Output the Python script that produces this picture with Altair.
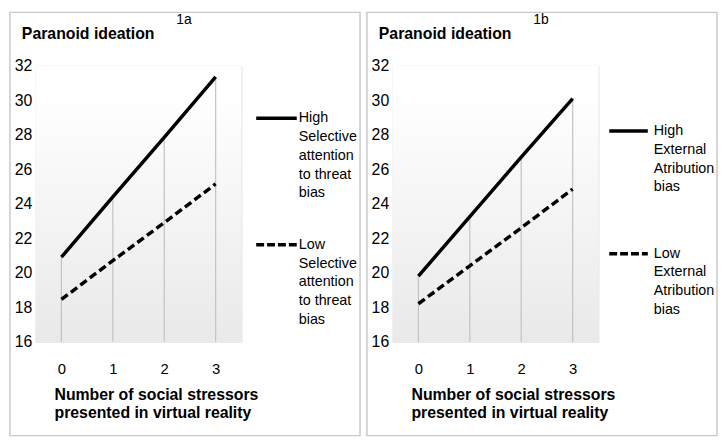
import altair as alt
import pandas as pd

# ---- data ----
stressors = [0, 1, 2, 3]
high_1a = [20.9, 24.4, 27.85, 31.35]
low_1a = [18.45, 20.7, 22.9, 25.15]
high_1b = [19.8, 23.25, 26.7, 30.1]
low_1b = [18.2, 20.4, 22.6, 24.85]
y_ticks = [16, 18, 20, 22, 24, 26, 28, 30, 32]
y_title = "Paranoid ideation"
x_title = ["Number of social stressors", "presented in virtual reality"]
legend_1a_high = ["High", "Selective", "attention", "to threat", "bias"]
legend_1a_low = ["Low", "Selective", "attention", "to threat", "bias"]
legend_1b_high = ["High", "External", "Atribution", "bias"]
legend_1b_low = ["Low", "External", "Atribution", "bias"]

FONT = "Liberation Sans"
W, H = 208, 279
L, T, B = 26, 54, 95

one = pd.DataFrame({"k": [0]})


def panel(tag, high, low, leg_high, leg_low, R, leg):
    df_high = pd.DataFrame({"x": stressors, "value": high})
    df_low = pd.DataFrame({"x": stressors, "value": low})
    xs = alt.X("x:O", scale=alt.Scale(type="point", padding=0.5),
               axis=alt.Axis(labelAngle=0, labelFontSize=15, labelPadding=20,
                             domain=False, ticks=False, grid=False, title=None,
                             labelColor="black", labelFont=FONT))
    ys = alt.Y("value:Q", scale=alt.Scale(domain=[16, 32], nice=False, zero=False),
               axis=alt.Axis(values=y_ticks, domain=False, ticks=False, grid=False,
                             title=None, labelFontSize=16, labelPadding=4,
                             labelColor="black", labelFont=FONT))

    bg = alt.Chart(one).mark_rect(
        color=alt.LinearGradient(
            gradient="linear", x1=0, x2=0, y1=0, y2=1,
            stops=[alt.GradientStop(color="#ffffff", offset=0.0),
                   alt.GradientStop(color="#ffffff", offset=0.1),
                   alt.GradientStop(color="#e9e9e9", offset=1.0)])
    ).encode(x=alt.value(0), x2=alt.value(W), y=alt.value(0), y2=alt.value(H))

    box = alt.Chart(one).mark_rect(filled=False, stroke="#c9c9c9", strokeWidth=1.5).encode(
        x=alt.value(-L), x2=alt.value(W + R), y=alt.value(-T), y2=alt.value(H + B))

    drops = alt.Chart(df_high).mark_rule(color="#c2c2c2", strokeWidth=1.2).encode(
        x=xs, y=ys, y2=alt.datum(16))

    hi_line = alt.Chart(df_high).mark_line(color="black", strokeWidth=3.5).encode(x=xs, y=ys)
    lo_line = alt.Chart(df_low).mark_line(color="black", strokeWidth=3.5,
                                          strokeDash=[8, 4]).encode(x=xs, y=ys)

    title = alt.Chart(one).mark_text(text=y_title, font=FONT, fontSize=16, fontWeight="bold",
                                     align="left", baseline="middle", color="black").encode(
        x=alt.value(-14), y=alt.value(-32))
    tag_t = alt.Chart(one).mark_text(text=tag, font=FONT, fontSize=14, align="center",
                                     baseline="middle", color="black").encode(
        x=alt.value(150), y=alt.value(-46))
    xt = alt.Chart(one).mark_text(text=x_title, font=FONT, fontSize=16, fontWeight="bold",
                                  align="left", baseline="middle", lineHeight=18,
                                  color="black").encode(x=alt.value(19), y=alt.value(333))

    sx1, sx2, tx, yh, yl = leg
    s_hi = alt.Chart(one).mark_rule(color="black", strokeWidth=3.5).encode(
        x=alt.value(sx1), x2=alt.value(sx2), y=alt.value(yh))
    s_lo = alt.Chart(one).mark_rule(color="black", strokeWidth=3.5, strokeDash=[8, 3]).encode(
        x=alt.value(sx1), x2=alt.value(sx2), y=alt.value(yl))
    t_hi = alt.Chart(one).mark_text(text=leg_high, font=FONT, fontSize=14.5, align="left",
                                    baseline="middle", lineHeight=19, color="black").encode(
        x=alt.value(tx), y=alt.value(yh))
    t_lo = alt.Chart(one).mark_text(text=leg_low, font=FONT, fontSize=14.5, align="left",
                                    baseline="middle", lineHeight=19, color="black").encode(
        x=alt.value(tx), y=alt.value(yl))

    return alt.layer(bg, box, drops, hi_line, lo_line, title, tag_t, xt,
                     s_hi, s_lo, t_hi, t_lo).properties(width=W, height=H)


p1 = panel("1a", high_1a, low_1a, legend_1a_high, legend_1a_low, 120,
           (223, 264, 266, 53, 181))
p2 = panel("1b", high_1b, low_1b, legend_1b_high, legend_1b_low, 120,
           (219, 258, 264, 66, 190))

chart = alt.hconcat(p1, p2, spacing=3).properties(padding=0).configure_view(
    strokeWidth=0).configure(font=FONT)

chart.save("out.html", embed_options={"renderer": "svg", "actions": False})
